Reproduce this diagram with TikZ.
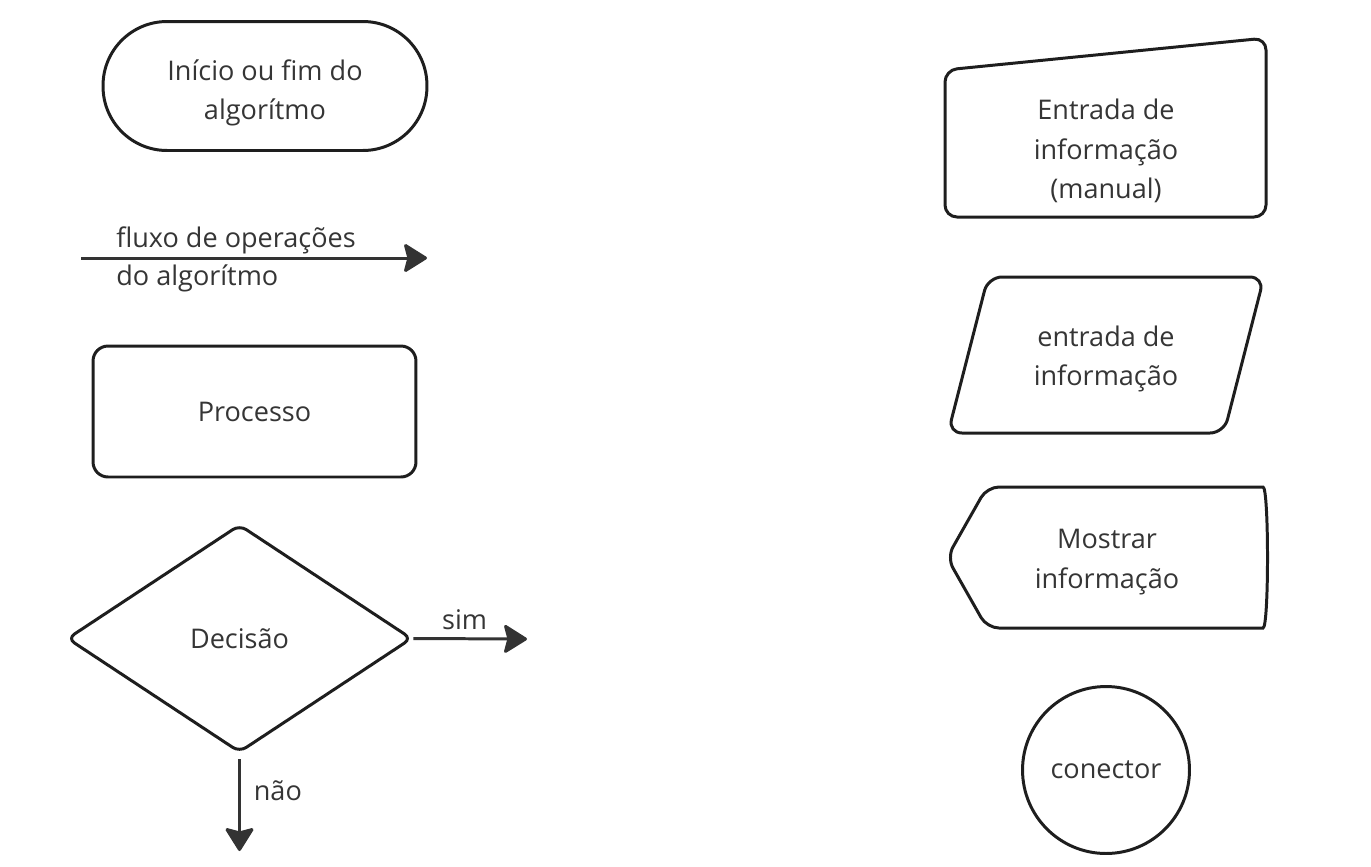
\documentclass[tikz,border=0pt]{standalone}
\usepackage{fontspec}
\setmainfont{Open Sans}
\usetikzlibrary{shapes.geometric,arrows.meta}
\definecolor{ink}{HTML}{1E1E1E}
\definecolor{arrowgray}{HTML}{333333}
\begin{document}
\begin{tikzpicture}[x=0.02cm,y=-0.02cm,
	every node/.style={font=\fontsize{15.4}{22.5}\selectfont, text=ink!90, align=center},
	box/.style={draw=ink, line width=1.7pt},
	seta/.style={draw=arrowgray, line width=1.7pt, -{Stealth[length=0.5cm, width=0.62cm, inset=0.08cm, round]}}]
	\useasboundingbox (0,0) rectangle (1371,866);
	% left column
	\node[box, rounded corners=1.28cm, minimum width=6.48cm, minimum height=2.58cm] (1) at (265,86) {};
	\node (1t) at (265,93) {Início ou fim do\\algorítmo};
	\coordinate (a) at (81,258);
	\coordinate (b) at (427,258);
	\draw[seta] (a) -- (b);
	\node[anchor=west, inner sep=0] (2) at (116,240) {fluxo de operações};
	\node[anchor=west, inner sep=0] (2b) at (116,278) {do algorítmo};
	\node[box, rounded corners=0.3cm, minimum width=6.46cm, minimum height=2.62cm] (3) at (254.5,411.5) {Processo};
	\node[box, diamond, rounded corners=0.16cm, minimum width=6.9cm, minimum height=4.56cm, inner sep=0] (4) at (239.5,638.5) {Decisão};
	\coordinate (s) at (527,639);
	\coordinate (n) at (239.5,851);
	\draw[seta] (4.east) -- (s) node[pos=0.45, above=1pt] {sim};
	\draw[seta, shorten <=3pt] (4.south) -- (n) node[pos=0.38, right=4pt] {não};
	% right column
	\draw[box, rounded corners=0.24cm] (945,70) -- (1266,38) -- (1266,217) -- (945,217) -- cycle;
	\node (6) at (1106,151) {Entrada de\\informação\\(manual)};
	\draw[box, rounded corners=0.28cm] (988,277) -- (1264,277) -- (1224,433) -- (948,433) -- cycle;
	\node (7) at (1106,359) {entrada de\\informação};
	\draw[box, rounded corners=0.24cm] (987,487) -- (1251,487) .. controls (1269,487) and (1269,628) .. (1251,628) -- (987,628) -- (947,557.5) -- cycle;
	\node (8) at (1107,562) {Mostrar\\informação};
	\node[box, circle, minimum size=3.34cm, inner sep=0] (9) at (1106,770) {conector};
\end{tikzpicture}
\end{document}
